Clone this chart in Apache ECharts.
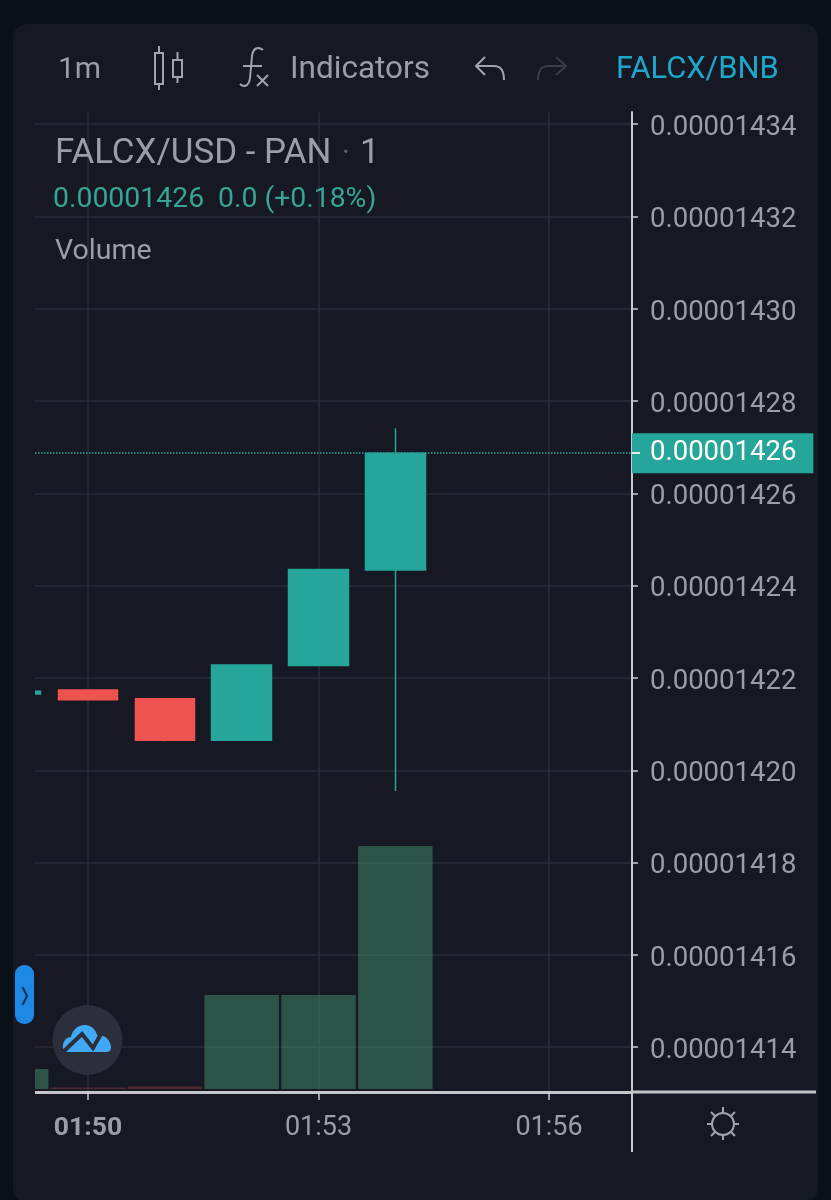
<!DOCTYPE html>
<html><head><meta charset="utf-8">
<style>html,body{margin:0;padding:0;background:#0a1017}#c{width:831px;height:1200px}</style>
<script src="https://cdn.jsdelivr.net/npm/echarts@6/dist/echarts.min.js"></script>
</head><body><div id="c"></div>
<script>
// minutes since midnight (01:49 = 109)
var minutes = [109, 110, 111, 112, 113, 114];
var opens  = [0.00001421650, 0.00001421740, 0.00001421550, 0.00001420650, 0.00001422270, 0.00001424340];
var closes = [0.00001421710, 0.00001421530, 0.00001420650, 0.00001422280, 0.00001424350, 0.00001426870];
var lows   = [0.00001421650, 0.00001421530, 0.00001420630, 0.00001420650, 0.00001422270, 0.00001419550];
var highs  = [0.00001421710, 0.00001421740, 0.00001421550, 0.00001422280, 0.00001424350, 0.00001427410];
var volumes = [20, 1.5, 2.5, 94, 94, 243];
var priceTicks = [0.00001414,0.00001416,0.00001418,0.0000142,0.00001422,0.00001424,0.00001426,0.00001428,0.0000143,0.00001432,0.00001434];
var timeTicks = [110, 113, 116];
var lastPrice = 0.0000142687;
var lastPriceLabel = '0.00001426';

var UP='#26a69a', DOWN='#ef5350', TXT='#9d9da6', GRID='#2a2d38', AXIS='#c9cad0', PANEL='#161924', PAGE='#0a1017';
var FONT='Roboto';
var candleData = minutes.map(function(m,i){return [m,opens[i],closes[i],lows[i],highs[i]];});
var volData = minutes.map(function(m,i){return {value:[m,volumes[i]],itemStyle:{color:closes[i]>=opens[i]?'rgba(83,185,135,0.36)':'rgba(239,83,80,0.27)'}};});
function hhmm(v){var h=Math.floor(v/60),m=v%60;return (h<10?'0':'')+h+':'+(m<10?'0':'')+m;}

var shapeCount=0;
function pathEl(d,z,style){
  var name='iconShape'+(shapeCount++);
  echarts.graphic.registerShape(name,echarts.graphic.extendPath(d,{}));
  return {type:name,z:z,style:style};
}
function txt(x,y,t,size,fill){return {type:'text',z:50,x:x,y:y,style:{text:t,font:size+'px '+FONT,fill:fill,verticalAlign:'middle'}};}
function stroke(d,color,w){return pathEl(d,50,{fill:null,stroke:color,lineWidth:w||2});}
function line(x1,y1,x2,y2,color,w,z){return {type:'line',z:z||3,shape:{x1:x1,y1:y1,x2:x2,y2:y2},style:{stroke:color,lineWidth:w||2}};}

var ICON='#a3a3ab';
var graphics=[
 {type:'rect',z:-10,shape:{x:13,y:24,width:805,height:1178,r:14},style:{fill:PANEL}},
 // plot edge: the 01:49 candle and bar are cut off at the chart's left side
 {type:'rect',z:20,shape:{x:0,y:600,width:13,height:600},style:{fill:PAGE}},
 {type:'rect',z:20,shape:{x:13,y:600,width:22,height:500},style:{fill:PANEL}},
 txt(58,70,'1m',30,TXT),
 txt(290,70,'Indicators',31.5,TXT),
 txt(616,70,'FALCX/BNB',30.8,'#1fa7c9'),
 // candles icon
 stroke('M159 46V53M159 84V90M155 53H163V84H155ZM177.5 52V60M177.5 77V83M173 60H182V77H173Z',ICON,2),
 // fx icon
 stroke('M263 50C258 46 253 48 252 56L250 78C249 86 244 88 240 84M243 66H262',ICON,2),
 stroke('M257 75L268 86M268 75L257 86',ICON,2),
 // undo / redo
 stroke('M485 57L476 66L485 75M476 66H494C501 66 504 71 504 80',ICON,2),
 stroke('M556 57L566 66L556 75M566 66H548C541 66 538 71 538 80','#3a3d48',2),
 // legend
 txt(55,154,'FALCX/USD - PAN',34.9,TXT),
 txt(342,154,'·',30,'#5d5f69'),
 txt(360,154,'1',34.9,TXT),
 txt(53,200,'0.00001426',28.4,'#36a596'),
 txt(218,200,'0.0 (+0.18%)',28.4,'#36a596'),
 txt(55,252,'Volume',28.5,TXT),
 // axis extensions
 line(632,1092,816,1092,'#c4c5cb',3),
 line(632,1092,632,1152,AXIS,2),
 line(632,453,640,453,'#e8e8ea',2,60),
 // settings sun
 {type:'circle',z:50,shape:{cx:723,cy:1124,r:11},style:{fill:null,stroke:ICON,lineWidth:2}},
 stroke('M723 1107V1113M723 1135V1140M707 1124H712M734 1124H739M711 1112L715 1116M735 1112L731 1116M711 1136L715 1132M735 1136L731 1132',ICON,2),
 // side tab
 {type:'rect',z:50,shape:{x:15,y:965,width:19,height:59,r:9},style:{fill:'#1e88e5'}},
 stroke('M22.5 987L27 996L22.5 1005','#12304f',2),
 // logo
 {type:'circle',z:50,shape:{cx:87.5,cy:1040,r:35},style:{fill:'#2c2f3b'}},
 pathEl('M63 1049C62 1042 66 1037 71 1037C72 1030 79 1024 86 1025C92 1026 96 1030 97 1035C104 1034 111 1040 111 1047C111 1051 109 1052 106 1052H68C65 1052 63 1051 63 1049Z',51,{fill:'#3fa9f5'}),
 pathEl('M63 1052L82 1034L93 1048L101 1034',52,{fill:null,stroke:'#2c2f3b',lineWidth:4})
];

var chart=echarts.init(document.getElementById('c'),null,{renderer:'canvas'});
chart.setOption({
 backgroundColor:PAGE,
 animation:false,
 textStyle:{fontFamily:FONT},
 graphic:{elements:graphics},
 grid:[
  {left:35,top:112,width:597,bottom:108},
  {left:35,top:112,width:597,bottom:111}
 ],
 xAxis:[
  {type:'value',gridIndex:0,min:109.31,max:117.08,
   axisLine:{show:true,onZero:false,lineStyle:{color:'#c4c5cb',width:3}},
   axisTick:{show:true,length:8,inside:false,customValues:timeTicks,lineStyle:{color:AXIS,width:1.5}},
   splitLine:{show:true,lineStyle:{color:GRID,width:1.5}},
   axisLabel:{customValues:timeTicks,margin:23,fontFamily:FONT,fontSize:27,color:TXT,hideOverlap:false,
     formatter:function(v){var s=hhmm(v);return v===110?'{b|'+s+'}':s;},
     rich:{b:{fontFamily:FONT,fontSize:26.5,fontWeight:'bold',color:TXT}}}},
  {type:'value',gridIndex:1,min:109.31,max:117.08,show:false}
 ],
 yAxis:[
  {type:'value',gridIndex:0,position:'right',min:0.0000141303,max:0.0000143426,scale:true,
   axisLine:{show:true,onZero:false,lineStyle:{color:AXIS,width:2}},
   axisTick:{show:true,length:6,customValues:priceTicks,lineStyle:{color:AXIS,width:1.5}},
   splitLine:{show:true,lineStyle:{color:GRID,width:1.5}},
   axisLabel:{customValues:priceTicks,margin:18,fontFamily:FONT,fontSize:27.5,color:TXT,
     formatter:function(v){return '{p|'+v.toFixed(8)+'}';},
     rich:{p:{fontFamily:FONT,fontSize:27.5,color:TXT,padding:[8,0,0,0]}}}},
  {type:'value',gridIndex:1,min:0,max:977,show:false}
 ],
 series:[
  {type:'bar',xAxisIndex:1,yAxisIndex:1,z:1,barWidth:74.5,data:volData,encode:{x:0,y:1}},
  {type:'candlestick',xAxisIndex:0,yAxisIndex:0,z:3,barWidth:60,data:candleData,encode:{x:0,y:[1,2,3,4]},
   itemStyle:{color:UP,color0:DOWN,borderColor:UP,borderColor0:DOWN,borderWidth:1.5},
   markLine:{symbol:'none',silent:true,animation:false,precision:12,
     lineStyle:{color:UP,type:'dotted',width:1.5},
     label:{show:true,position:'end',distance:0,formatter:lastPriceLabel,color:'#ffffff',fontFamily:FONT,fontSize:27.5,
       backgroundColor:UP,padding:[7,17,5,18]},
     data:[{yAxis:lastPrice}]}}
 ]
});
</script></body></html>
